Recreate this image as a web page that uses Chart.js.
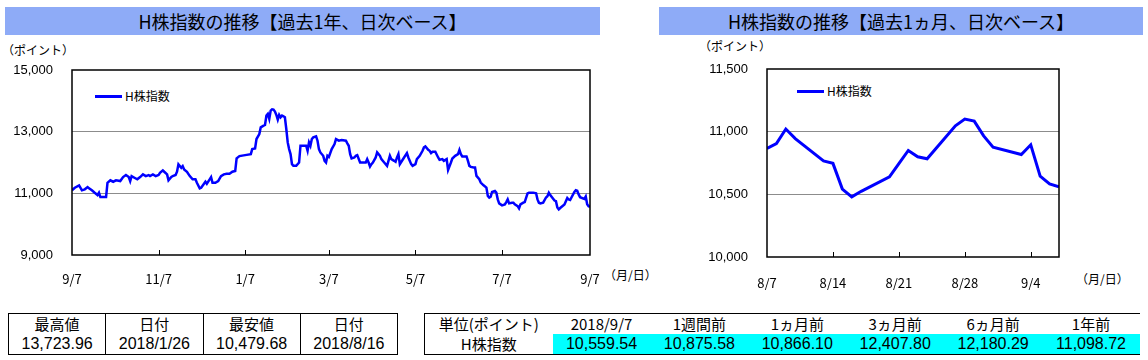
<!DOCTYPE html>
<html><head><meta charset="utf-8">
<script src="https://cdn.jsdelivr.net/npm/chart.js@4.4.0/dist/chart.umd.min.js"></script>
<style>
body{margin:0;width:1148px;height:360px;background:#fff;position:relative;overflow:hidden;font-family:"Noto Sans CJK JP",sans-serif;color:#000;}
.title{position:absolute;top:7px;height:28px;background:#8eabf7;font-size:18px;line-height:28px;text-align:center;}
.note{position:absolute;font-size:12px;line-height:14px;}
canvas{position:absolute;}
.legend{position:absolute;font-size:12px;line-height:14px;}
.legend i{display:inline-block;width:27px;height:3px;background:#00f;vertical-align:middle;margin-right:3px;margin-top:-2px}
table{position:absolute;border-collapse:collapse;font-size:15px;}
td{padding:0;text-align:center;height:20px;line-height:20px;}
.num{font-family:"Liberation Sans",Arial,sans-serif;font-size:16px;}
</style></head>
<body>
<div class="title" style="left:5px;width:595px">H株指数の推移【過去1年、日次ベース】</div>
<div class="title" style="left:659px;width:484px">H株指数の推移【過去1ヵ月、日次ベース】</div>
<div class="note" style="left:2px;top:43px">（ポイント）</div>
<div class="note" style="left:699px;top:39px">（ポイント）</div>
<div class="note" style="left:604px;top:268px">（月/日）</div>
<div class="note" style="left:1076px;top:272px">（月/日）</div>
<div class="legend" style="left:95px;top:89px"><i></i>H株指数</div>
<div class="legend" style="left:797px;top:84px"><i></i>H株指数</div>
<canvas id="yearChart" width="640" height="250" style="left:0;top:40px"></canvas>
<canvas id="monthChart" width="508" height="250" style="left:640px;top:40px"></canvas>
<table id="hiLo" style="left:8px;top:313px;width:390px;border:1.5px solid #000"></table>
<table id="period" style="left:424px;top:313px;width:716px;border-top:1.5px solid #000;border-bottom:1.5px solid #000;border-left:1.5px solid #000"></table>
<script>
// 過去1年（日次）
const yearDates=['2017/9/7','2017/9/9','2017/9/12','2017/9/14','2017/9/16','2017/9/18','2017/9/19','2017/9/21','2017/9/23','2017/9/25','2017/9/26','2017/9/27','2017/9/29',
'2017/10/1','2017/10/2','2017/10/4','2017/10/6','2017/10/8','2017/10/11','2017/10/13','2017/10/15','2017/10/17','2017/10/18','2017/10/19','2017/10/21','2017/10/23','2017/10/25','2017/10/27','2017/10/29','2017/10/31',
'2017/11/1','2017/11/3','2017/11/5','2017/11/7','2017/11/8','2017/11/10','2017/11/11','2017/11/13','2017/11/14','2017/11/16','2017/11/17','2017/11/19','2017/11/20','2017/11/21','2017/11/23','2017/11/24','2017/11/25','2017/11/27','2017/11/29',
'2017/12/1','2017/12/3','2017/12/4','2017/12/6','2017/12/7','2017/12/9','2017/12/10','2017/12/11','2017/12/13','2017/12/14','2017/12/15','2017/12/17','2017/12/19','2017/12/21','2017/12/23','2017/12/25','2017/12/27','2017/12/29','2017/12/31',
'2018/1/1','2018/1/3','2018/1/7','2018/1/11','2018/1/12','2018/1/14','2018/1/15','2018/1/17','2018/1/18','2018/1/20','2018/1/21','2018/1/22','2018/1/23','2018/1/24','2018/1/25','2018/1/26','2018/1/27','2018/1/28','2018/1/29','2018/1/30','2018/1/31',
'2018/2/1','2018/2/2','2018/2/3','2018/2/4','2018/2/5','2018/2/6','2018/2/7','2018/2/8','2018/2/9','2018/2/10','2018/2/12','2018/2/14','2018/2/15','2018/2/17','2018/2/19','2018/2/20','2018/2/21','2018/2/22','2018/2/23','2018/2/24','2018/2/26','2018/2/27','2018/2/28',
'2018/3/1','2018/3/3','2018/3/4','2018/3/5','2018/3/6','2018/3/7','2018/3/9','2018/3/11','2018/3/12','2018/3/14','2018/3/16','2018/3/19','2018/3/20','2018/3/21','2018/3/22','2018/3/23','2018/3/25','2018/3/26','2018/3/27','2018/3/29','2018/3/30',
'2018/4/2','2018/4/3','2018/4/4','2018/4/5','2018/4/6','2018/4/7','2018/4/9','2018/4/10','2018/4/11','2018/4/12','2018/4/13','2018/4/15','2018/4/17','2018/4/18','2018/4/19','2018/4/20','2018/4/22','2018/4/23','2018/4/24','2018/4/25','2018/4/26','2018/4/29',
'2018/5/1','2018/5/2','2018/5/4','2018/5/5','2018/5/7','2018/5/8','2018/5/10','2018/5/12','2018/5/13','2018/5/14','2018/5/16','2018/5/17','2018/5/18','2018/5/19','2018/5/21','2018/5/23','2018/5/24','2018/5/26','2018/5/27','2018/5/29','2018/5/30',
'2018/6/1','2018/6/2','2018/6/4','2018/6/6','2018/6/7','2018/6/8','2018/6/9','2018/6/12','2018/6/13','2018/6/14','2018/6/15','2018/6/17','2018/6/18','2018/6/19','2018/6/21','2018/6/22','2018/6/24','2018/6/26','2018/6/27','2018/6/28','2018/6/29','2018/6/30',
'2018/7/2','2018/7/3','2018/7/4','2018/7/5','2018/7/7','2018/7/9','2018/7/10','2018/7/11','2018/7/12','2018/7/14','2018/7/15','2018/7/16','2018/7/18','2018/7/19','2018/7/20','2018/7/22','2018/7/23','2018/7/25','2018/7/26','2018/7/27','2018/7/29','2018/7/31',
'2018/8/1','2018/8/2','2018/8/3','2018/8/5','2018/8/7','2018/8/8','2018/8/9','2018/8/10','2018/8/13','2018/8/14','2018/8/15','2018/8/16','2018/8/17','2018/8/20','2018/8/21','2018/8/22','2018/8/23','2018/8/24','2018/8/27','2018/8/28','2018/8/29','2018/8/30','2018/8/31',
'2018/9/3','2018/9/4','2018/9/5','2018/9/6','2018/9/7'];
const yearValues=[11098.72,11182,11259,11097,11130,11204,11162,11097,11019,10945,11019,10880,10880,
10880,11343,11421,11376,11421,11398,11528,11593,11528,11398,11560,11506,11454,11528,11615,11560,11593,
11560,11615,11560,11593,11667,11745,11700,11615,11421,11528,11560,11593,11700,11940,11829,11884,11777,11700,11560,
11454,11454,11343,11162,11182,11311,11376,11311,11454,11528,11343,11343,11398,11560,11615,11635,11635,11700,11722,
12134,12209,12239,12272,12435,12457,12761,12924,13141,13196,13217,13522,13576,13413,13685,13723.96,13717,13652,13544,13391,13544,
13467,13522,13500,13467,13087,12652,12435,12272,11946,11891,11891,12000,12543,12543,12543,12380,12652,12543,12761,12815,12848,12707,12435,
12326,12217,12054,12000,12217,12180.29,12435,12598,12761,12707,12728,12707,12620,12543,12272,12130,12163,12217,12239,12000,12000,
12000,12109,12000,11870,11946,12000,12163,12326,12272,12217,12109,12000,11891,12054,12217,12109,12054,12022,12163,12272,11946,12163,
12304,12163,11946,11891,11946,12109,12217,12380,12489,12522,12413,12380,12304,12348,12348,12163,12087,12109,12054,12109,11761,
12000,12130,12217,12272,12407.80,12272,12196,12196,12054,11891,11859,11837,11837,11565,11456,11348,11261,11185,10913,10859,10891,11043,
11076,11022,10804,10674,10609,10641,10717,10804,10674,10696,10696,10641,10587,10511,10641,10696,10717,11000,11022,11022,11022,11000,
10804,10696,10674,10696,10866.10,10905,11021,10945,10766,10747,10542,10479.68,10524,10639,10745,10850,10800,10784,11047,11100,11084,10966,10875.58,
10818,10895,10645,10584,10559.54];
const yearTickDates=['2017/9/7','2017/11/7','2018/1/7','2018/3/7','2018/5/7','2018/7/7','2018/9/7'];
const yearTickLabels=['9/7','11/7','1/7','3/7','5/7','7/7','9/7'];

// 過去1ヵ月（日次）
const monthDates=['2018/8/7','2018/8/8','2018/8/9','2018/8/10','2018/8/13','2018/8/14','2018/8/15','2018/8/16','2018/8/17','2018/8/20','2018/8/21','2018/8/22','2018/8/23','2018/8/24','2018/8/27','2018/8/28','2018/8/29','2018/8/30','2018/8/31','2018/9/3','2018/9/4','2018/9/5','2018/9/6','2018/9/7'];
const monthValues=[10866.10,10905,11021,10945,10766,10747,10542,10479.68,10524,10639,10745,10850,10800,10784,11047,11100,11084,10966,10875.58,10818,10895,10645,10584,10559.54];
const monthTickDates=['2018/8/7','2018/8/14','2018/8/21','2018/8/28','2018/9/4'];
const monthTickLabels=['8/7','8/14','8/21','8/28','9/4'];

// 表
const hiLoHead=['最高値','日付','最安値','日付'];
const hiLoRow=['13,723.96','2018/1/26','10,479.68','2018/8/16'];
const periodHead=['単位(ポイント)','2018/9/7','1週間前','1ヵ月前','3ヵ月前','6ヵ月前','1年前'];
const periodName='H株指数';
const periodValues=['10,559.54','10,875.58','10,866.10','12,407.80','12,180.29','11,098.72'];

function dayNum(s){const p=s.split('/');return Date.UTC(+p[0],p[1]-1,+p[2])/86400000;}

Chart.defaults.color='#000';
Chart.defaults.font.family='"Liberation Sans", Arial, sans-serif';
Chart.defaults.font.size=13;

const frame={id:'frame',afterDraw(c,a,opt){
  const r=c.chartArea,ctx=c.ctx,x=c.scales.x;
  ctx.save();ctx.strokeStyle='#000';ctx.lineWidth=1.5;
  ctx.strokeRect(r.left,r.top,r.right-r.left,r.bottom-r.top);
  ctx.lineWidth=1;
  opt.marks.forEach(v=>{const px=Math.round(x.getPixelForValue(v))+0.5;ctx.beginPath();ctx.moveTo(px,r.bottom);ctx.lineTo(px,r.bottom-5);ctx.stroke();});
  ctx.restore();
}};

function makeChart(id,dates,values,tickDates,tickLabels,yMin,yMax,yStep,cfg){
  const d0=dayNum(dates[0]);
  const pts=dates.map((d,i)=>({x:dayNum(d)-d0,y:values[i]}));
  const tv=tickDates.map(d=>dayNum(d)-d0);
  const last=dayNum(dates[dates.length-1])-d0;
  return new Chart(document.getElementById(id),{
    type:'line',
    data:{datasets:[{data:pts,borderColor:'#0000ff',borderWidth:cfg.lw,pointRadius:0,tension:0,fill:false}]},
    plugins:[frame],
    options:{
      responsive:false,animation:false,
      layout:{padding:{top:cfg.top,right:cfg.right,left:0,bottom:0}},
      plugins:{legend:{display:false},tooltip:{enabled:false},frame:{marks:tv.filter(v=>v>0&&v<last)}},
      scales:{
        x:{type:'linear',min:0,max:cfg.xMax,
          afterBuildTicks:s=>{s.ticks=tv.map(v=>({value:v}));},
          afterFit:s=>{s.height=cfg.xh;},
          grid:{display:false},border:{display:false},
          ticks:{autoSkip:false,maxRotation:0,padding:cfg.xpad,font:{family:'"Noto Sans CJK JP",sans-serif',size:13},callback:v=>tickLabels[tv.indexOf(v)]}},
        y:{min:yMin,max:yMax,
          afterFit:s=>{s.width=cfg.yw;},
          border:{display:false},
          grid:{drawTicks:false,lineWidth:1,color:c=>(c.tick.value===yMin||c.tick.value===yMax)?'rgba(0,0,0,0)':'#8c8c8c'},
          ticks:{stepSize:yStep,padding:cfg.ypad,callback:v=>v.toLocaleString('en-US')}}
      }
    }
  });
}

makeChart('yearChart',yearDates,yearValues,yearTickDates,yearTickLabels,9000,15000,2000,
  {lw:2.5,top:30,right:50,yw:72,xh:35,xMax:365,xpad:8,ypad:19});
makeChart('monthChart',monthDates,monthValues,monthTickDates,monthTickLabels,10000,11500,500,
  {lw:3,top:29,right:89,yw:127,xh:33,xMax:31,xpad:10,ypad:19});

// 表の作成
const t1=document.getElementById('hiLo');
t1.innerHTML='<tr>'+hiLoHead.map((h,i)=>'<td style="border-left:'+(i?'1px solid #000':'0')+'">'+h+'</td>').join('')+'</tr>'+
  '<tr>'+hiLoRow.map((h,i)=>'<td class="num" style="border-left:'+(i?'1px solid #000':'0')+'">'+h+'</td>').join('')+'</tr>';
const t2=document.getElementById('period');
t2.innerHTML='<tr>'+periodHead.map((h,i)=>'<td style="width:'+(i?'98px':'128px')+'">'+h+'</td>').join('')+'</tr>'+
  '<tr><td>'+periodName+'</td>'+periodValues.map(v=>'<td class="num" style="background:#00ffff">'+v+'</td>').join('')+'</tr>';
</script>
</body></html>
